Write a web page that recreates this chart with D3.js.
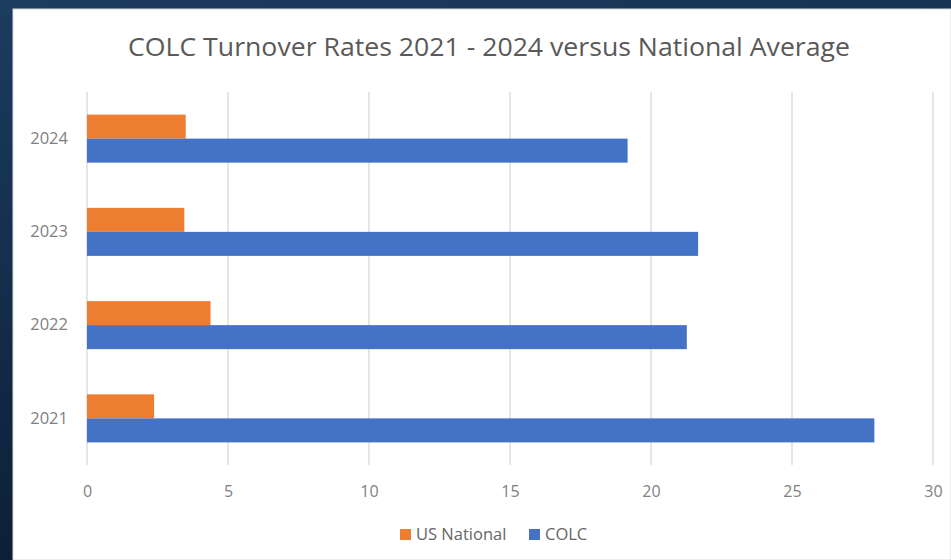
<!DOCTYPE html>
<html>
<head>
<meta charset="utf-8">
<script src="https://cdn.jsdelivr.net/npm/d3@7"></script>
<style>
  body { margin: 0; background: #10294a; }
  svg { display: block; }
</style>
</head>
<body>
<div id="container"></div>
<script>
// chart data
let years = ["2024", "2023", "2022", "2021"];
let seriesNames = ["US National", "COLC"];
let usNational = [3.5, 3.45, 4.38, 2.38];
let colc = [19.17, 21.67, 21.27, 27.92];
let xTicks = [0, 5, 10, 15, 20, 25, 30];
let colors = ["#ED7D31", "#4472C4"];

let w = 951;
let h = 560;

let viz = d3.select("#container")
  .append("svg")
    .attr("width", w)
    .attr("height", h);

// dark textured-looking backdrop
let defs = viz.append("defs");
let grad = defs.append("linearGradient")
  .attr("id", "bg")
  .attr("x1", 0).attr("y1", 0).attr("x2", 0.3).attr("y2", 1);
grad.append("stop").attr("offset", "0%").attr("stop-color", "#1c3c60");
grad.append("stop").attr("offset", "100%").attr("stop-color", "#0b1d33");

viz.append("rect")
  .attr("width", w).attr("height", h)
  .attr("fill", "url(#bg)");

// white chart panel
viz.append("rect")
  .attr("x", 13).attr("y", 9)
  .attr("width", w - 13).attr("height", h - 9)
  .attr("fill", "white")
  .attr("stroke", "#d9d9d9")
  .attr("stroke-width", 1);

let plot = { left: 87, right: 933, top: 92, bottom: 465 };

let xScale = d3.scaleLinear().domain([0, 30]).range([plot.left, plot.right]);
let yScale = d3.scaleBand().domain(years).range([plot.top, plot.bottom])
  .paddingInner(0.485).paddingOuter(0.2425);
let subScale = d3.scaleBand().domain(seriesNames).range([0, yScale.bandwidth()]);
let colorScale = d3.scaleOrdinal().domain(seriesNames).range(colors);

// gridlines
viz.append("g")
  .selectAll("line")
  .data(xTicks)
  .enter()
  .append("line")
    .attr("x1", d => xScale(d))
    .attr("x2", d => xScale(d))
    .attr("y1", plot.top)
    .attr("y2", plot.bottom)
    .attr("stroke", "#d9d9d9")
    .attr("stroke-width", 1.3);

// x axis labels
let xAxis = d3.axisBottom(xScale).tickValues(xTicks).tickSize(0).tickPadding(0);
let xg = viz.append("g")
  .attr("transform", "translate(0," + (plot.bottom + 32) + ")")
  .call(xAxis);
xg.select(".domain").remove();
xg.selectAll("text")
  .attr("dy", 0)
  .style("font-family", "'Open Sans', sans-serif")
  .style("font-size", "16px")
  .attr("fill", "#7f7f7f");

// y axis labels
let yAxis = d3.axisLeft(yScale).tickSize(0).tickPadding(0);
let yg = viz.append("g")
  .attr("transform", "translate(" + (plot.left - 19) + ",0)")
  .call(yAxis);
yg.select(".domain").remove();
yg.selectAll("text")
  .style("font-family", "'Open Sans', sans-serif")
  .style("font-size", "16.5px")
  .attr("fill", "#7f7f7f");

// bars
let rows = years.map((y, i) => ({ year: y, values: [usNational[i], colc[i]] }));

let groups = viz.selectAll(".datagroup").data(rows).enter()
  .append("g")
    .attr("class", "datagroup")
    .attr("transform", d => "translate(0," + yScale(d.year) + ")");

groups.selectAll("rect")
  .data(d => seriesNames.map((s, j) => ({ series: s, value: d.values[j] })))
  .enter()
  .append("rect")
    .attr("x", xScale(0))
    .attr("y", d => subScale(d.series))
    .attr("width", d => xScale(d.value) - xScale(0))
    .attr("height", subScale.bandwidth())
    .attr("fill", d => colorScale(d.series));

// title
viz.append("text")
  .attr("x", 489)
  .attr("y", 56)
  .attr("text-anchor", "middle")
  .attr("textLength", 722)
  .attr("lengthAdjust", "spacingAndGlyphs")
  .style("font-family", "'Open Sans', sans-serif")
  .style("font-size", "25px")
  .attr("fill", "#595959")
  .text("COLC Turnover Rates 2021 - 2024 versus National Average");

// legend
let legendX = [400, 529];
let legend = viz.selectAll(".legend").data(seriesNames).enter()
  .append("g")
    .attr("class", "legend")
    .attr("transform", (d, i) => "translate(" + legendX[i] + ",529)");

legend.append("rect")
  .attr("width", 11).attr("height", 11)
  .attr("fill", d => colorScale(d));

legend.append("text")
  .attr("x", 16)
  .attr("y", 11)
  .style("font-family", "'Open Sans', sans-serif")
  .style("font-size", "16.5px")
  .attr("fill", "#666666")
  .text(d => d);
</script>
</body>
</html>
